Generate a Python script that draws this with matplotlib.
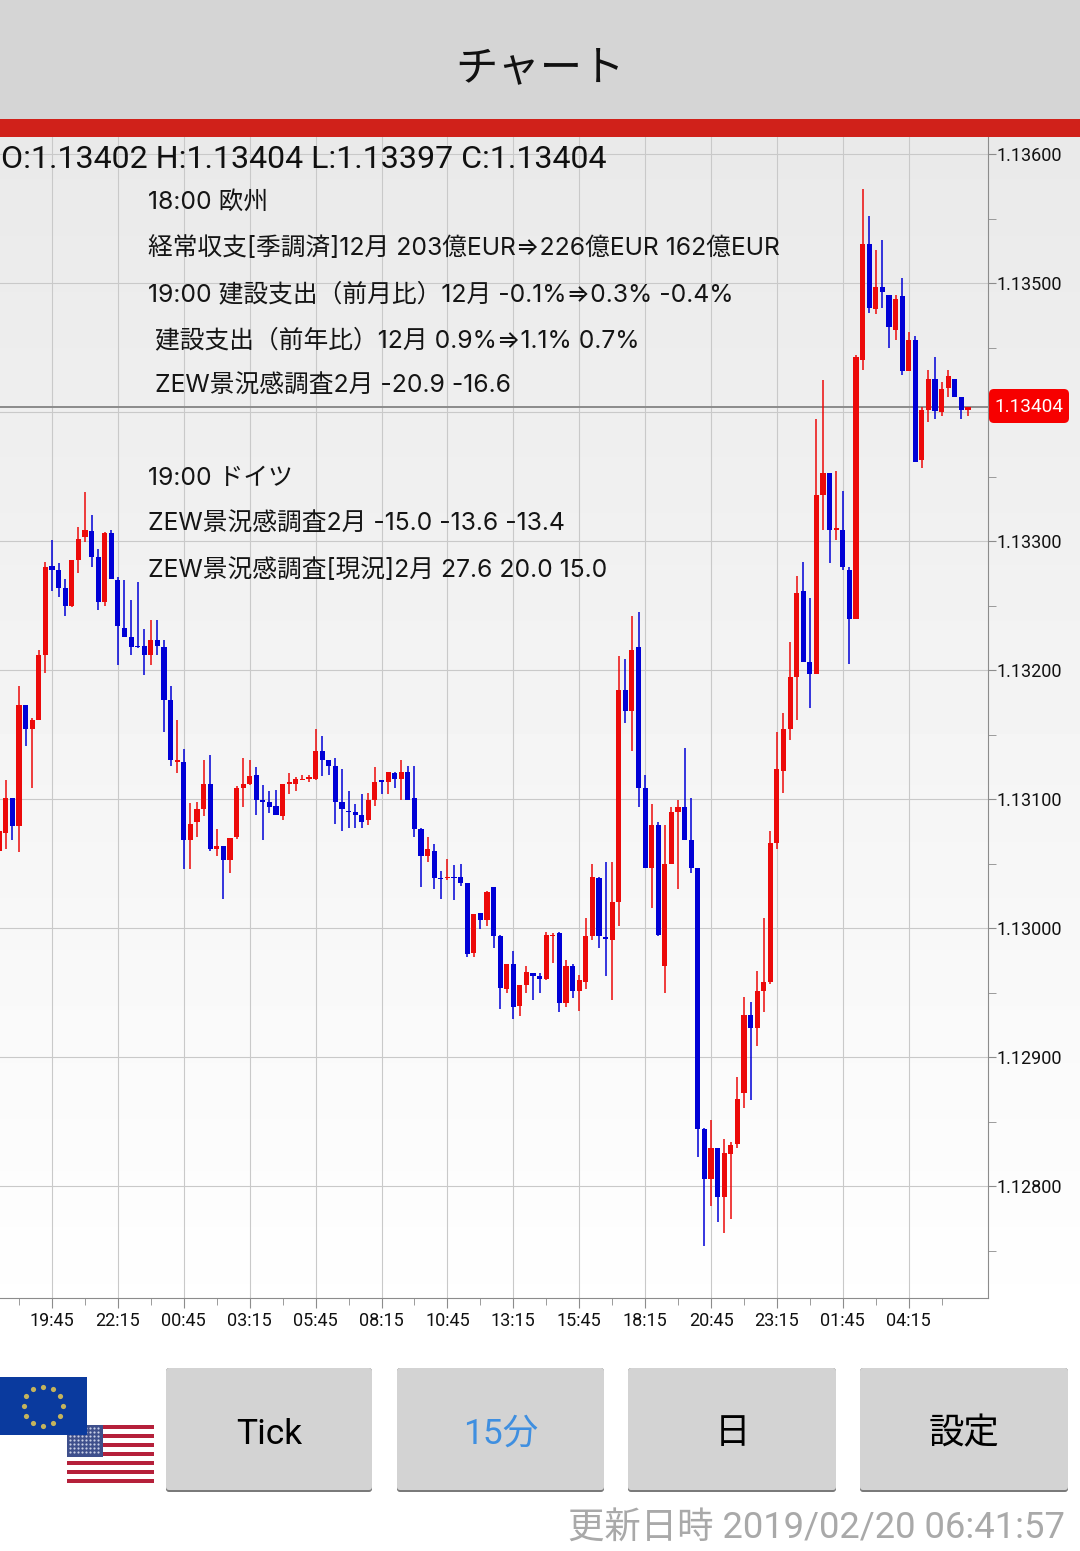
import numpy as np
import matplotlib
matplotlib.use('Agg')
import matplotlib.pyplot as plt
from matplotlib.patches import Rectangle, FancyBboxPatch

plt.rcParams['font.family'] = ['Roboto', 'Noto Sans CJK JP', 'DejaVu Sans']

# 15 minute candles, the first one sits 8 bars before the 19:45 label
first_bar = -8
opens = [1.13060, 1.13074, 1.13101, 1.13079, 1.13173, 1.13154, 1.13161, 1.13212,
         1.13281, 1.13278, 1.13264, 1.13250, 1.13285, 1.13303, 1.13308, 1.13288, 1.13253, 1.13306,
         1.13270, 1.13233, 1.13226, 1.13219, 1.13219, 1.13212, 1.13223, 1.13218, 1.13177, 1.13129,
         1.13129, 1.13068, 1.13082, 1.13092, 1.13112, 1.13061, 1.13064, 1.13053, 1.13071, 1.13109,
         1.13112, 1.13119, 1.13099, 1.13098, 1.13095, 1.13087, 1.13112, 1.13112, 1.13115, 1.13116,
         1.13116, 1.13137, 1.13130, 1.13126, 1.13098, 1.13091, 1.13090, 1.13088, 1.13084, 1.13099,
         1.13115, 1.13113, 1.13120, 1.13116, 1.13121, 1.13101, 1.13077, 1.13056, 1.13060, 1.13039,
         1.13039, 1.13040, 1.13040, 1.13035, 1.12981, 1.13012, 1.13006, 1.13032, 1.12994, 1.12953,
         1.12972, 1.12940, 1.12956, 1.12965, 1.12963, 1.12961, 1.12994, 1.12996, 1.12942, 1.12971,
         1.12951, 1.12958, 1.12994, 1.13039, 1.12993, 1.12991, 1.13020, 1.13185, 1.13168, 1.13218,
         1.13109, 1.13047, 1.13080, 1.12971, 1.13050, 1.13090, 1.13094, 1.13068, 1.13047, 1.12844,
         1.12806, 1.12830, 1.12792, 1.12825, 1.12833, 1.12872, 1.12933, 1.12923, 1.12951, 1.12958,
         1.13066, 1.13122, 1.13154, 1.13195, 1.13261, 1.13206, 1.13197, 1.13336, 1.13353, 1.13309,
         1.13309, 1.13278, 1.13240, 1.13440, 1.13530, 1.13480, 1.13497, 1.13491, 1.13464, 1.13490,
         1.13432, 1.13456, 1.13363, 1.13402, 1.13426, 1.13400, 1.13419, 1.13426, 1.13412, 1.13402]
highs = [1.13085, 1.13115, 1.13101, 1.13188, 1.13173, 1.13163, 1.13216, 1.13284,
         1.13301, 1.13283, 1.13271, 1.13285, 1.13311, 1.13338, 1.13320, 1.13294, 1.13307, 1.13309,
         1.13272, 1.13270, 1.13254, 1.13268, 1.13232, 1.13239, 1.13239, 1.13223, 1.13188, 1.13161,
         1.13139, 1.13097, 1.13098, 1.13130, 1.13134, 1.13077, 1.13064, 1.13070, 1.13110, 1.13132,
         1.13130, 1.13125, 1.13111, 1.13106, 1.13107, 1.13112, 1.13120, 1.13117, 1.13119, 1.13119,
         1.13154, 1.13149, 1.13130, 1.13132, 1.13123, 1.13106, 1.13096, 1.13104, 1.13105, 1.13125,
         1.13115, 1.13121, 1.13121, 1.13130, 1.13126, 1.13126, 1.13078, 1.13071, 1.13065, 1.13044,
         1.13054, 1.13049, 1.13050, 1.13035, 1.13011, 1.13012, 1.13029, 1.13032, 1.12995, 1.12972,
         1.12982, 1.12956, 1.12971, 1.12965, 1.12965, 1.12997, 1.12996, 1.12997, 1.12975, 1.12972,
         1.12964, 1.13008, 1.13050, 1.13040, 1.13051, 1.13051, 1.13211, 1.13209, 1.13242, 1.13245,
         1.13119, 1.13096, 1.13082, 1.13080, 1.13094, 1.13099, 1.13140, 1.13101, 1.13047, 1.12845,
         1.12851, 1.12830, 1.12837, 1.12834, 1.12885, 1.12947, 1.12943, 1.12967, 1.13008, 1.13075,
         1.13152, 1.13167, 1.13222, 1.13273, 1.13284, 1.13256, 1.13395, 1.13425, 1.13353, 1.13354,
         1.13339, 1.13280, 1.13444, 1.13573, 1.13552, 1.13526, 1.13533, 1.13491, 1.13491, 1.13504,
         1.13462, 1.13459, 1.13404, 1.13433, 1.13443, 1.13423, 1.13433, 1.13426, 1.13412, 1.13404]
lows = [1.13030, 1.13061, 1.13068, 1.13059, 1.13141, 1.13109, 1.13161, 1.13198,
        1.13261, 1.13257, 1.13242, 1.13249, 1.13275, 1.13299, 1.13280, 1.13247, 1.13250, 1.13271,
        1.13204, 1.13226, 1.13212, 1.13217, 1.13196, 1.13204, 1.13212, 1.13152, 1.13126, 1.13120,
        1.13046, 1.13046, 1.13071, 1.13087, 1.13060, 1.13056, 1.13023, 1.13043, 1.13069, 1.13094,
        1.13111, 1.13088, 1.13068, 1.13089, 1.13088, 1.13084, 1.13104, 1.13106, 1.13115, 1.13113,
        1.13115, 1.13118, 1.13119, 1.13081, 1.13075, 1.13078, 1.13078, 1.13078, 1.13080, 1.13095,
        1.13104, 1.13104, 1.13109, 1.13099, 1.13099, 1.13071, 1.13032, 1.13051, 1.13030, 1.13023,
        1.13037, 1.13022, 1.13033, 1.12978, 1.12978, 1.12999, 1.13002, 1.12985, 1.12937, 1.12950,
        1.12930, 1.12932, 1.12950, 1.12944, 1.12950, 1.12960, 1.12973, 1.12935, 1.12939, 1.12946,
        1.12936, 1.12953, 1.12991, 1.12985, 1.12963, 1.12944, 1.13002, 1.13159, 1.13137, 1.13094,
        1.13047, 1.13016, 1.12994, 1.12950, 1.13050, 1.13030, 1.13068, 1.13043, 1.12823, 1.12754,
        1.12785, 1.12772, 1.12764, 1.12775, 1.12830, 1.12861, 1.12867, 1.12909, 1.12935, 1.12957,
        1.13061, 1.13105, 1.13146, 1.13161, 1.13206, 1.13171, 1.13197, 1.13309, 1.13283, 1.13301,
        1.13278, 1.13205, 1.13240, 1.13433, 1.13477, 1.13476, 1.13481, 1.13450, 1.13456, 1.13429,
        1.13432, 1.13361, 1.13357, 1.13392, 1.13395, 1.13397, 1.13412, 1.13412, 1.13395, 1.13397]
closes = [1.13075, 1.13101, 1.13079, 1.13173, 1.13154, 1.13161, 1.13212, 1.13280,
          1.13278, 1.13264, 1.13250, 1.13285, 1.13302, 1.13309, 1.13288, 1.13253, 1.13306, 1.13271,
          1.13234, 1.13226, 1.13218, 1.13218, 1.13212, 1.13223, 1.13219, 1.13177, 1.13130, 1.13130,
          1.13068, 1.13081, 1.13092, 1.13112, 1.13061, 1.13064, 1.13053, 1.13070, 1.13109, 1.13112,
          1.13118, 1.13099, 1.13098, 1.13094, 1.13088, 1.13112, 1.13113, 1.13116, 1.13116, 1.13117,
          1.13137, 1.13130, 1.13126, 1.13098, 1.13092, 1.13090, 1.13088, 1.13082, 1.13099, 1.13113,
          1.13113, 1.13121, 1.13116, 1.13121, 1.13099, 1.13077, 1.13056, 1.13061, 1.13039, 1.13038,
          1.13040, 1.13039, 1.13035, 1.12980, 1.13011, 1.13006, 1.13028, 1.12994, 1.12954, 1.12972,
          1.12939, 1.12956, 1.12966, 1.12963, 1.12961, 1.12995, 1.12995, 1.12942, 1.12971, 1.12951,
          1.12960, 1.12994, 1.13040, 1.12994, 1.12992, 1.13020, 1.13185, 1.13168, 1.13216, 1.13109,
          1.13047, 1.13080, 1.12995, 1.13050, 1.13090, 1.13094, 1.13068, 1.13047, 1.12844, 1.12806,
          1.12830, 1.12792, 1.12826, 1.12832, 1.12868, 1.12933, 1.12923, 1.12951, 1.12958, 1.13066,
          1.13123, 1.13154, 1.13195, 1.13260, 1.13206, 1.13197, 1.13336, 1.13353, 1.13309, 1.13310,
          1.13280, 1.13240, 1.13443, 1.13530, 1.13481, 1.13497, 1.13493, 1.13466, 1.13488, 1.13432,
          1.13456, 1.13361, 1.13402, 1.13426, 1.13401, 1.13418, 1.13428, 1.13412, 1.13402, 1.13404]

time_labels = ['19:45', '22:15', '00:45', '03:15', '05:45', '08:15', '10:45',
               '13:15', '15:45', '18:15', '20:45', '23:15', '01:45', '04:15']
bars_per_label = 10
price_ticks = [1.136, 1.135, 1.134, 1.133, 1.132, 1.131, 1.130, 1.129, 1.128]
price_minor = [1.1355, 1.1345, 1.1335, 1.1325, 1.1315, 1.1305, 1.1295, 1.1285, 1.1275]
last_price = 1.13404

ohlc_text = 'O:1.13402 H:1.13404 L:1.13397 C:1.13404'
notes = [(148, 202, '18:00 欧州'),
         (148, 248, '経常収支[季調済]12月 203億EUR⇒226億EUR 162億EUR'),
         (148, 294, '19:00 建設支出（前月比）12月 -0.1%⇒0.3% -0.4%'),
         (155, 340, '建設支出（前年比）12月 0.9%⇒1.1% 0.7%'),
         (155, 386, 'ZEW景況感調査2月 -20.9 -16.6'),
         (148, 478, '19:00 ドイツ'),
         (148, 524, 'ZEW景況感調査2月 -15.0 -13.6 -13.4'),
         (148, 570, 'ZEW景況感調査[現況]2月 27.6 20.0 15.0')]
buttons = [(166, 372, 'Tick', '#000000'), (397, 604, '15分', '#3f8fe0'),
           (628, 836, '日', '#000000'), (860, 1068, '設定', '#000000')]

W, H = 1080, 1551
fig = plt.figure(figsize=(W / 100, H / 100), dpi=100, facecolor='white')

# page background, light grey fading to white
bg = fig.add_axes([0, 0, 1, 1], zorder=0)
bg.axis('off')
shade = np.linspace(0.915, 1.0, 256).reshape(-1, 1)
bg.imshow(shade, cmap='gray', vmin=0, vmax=1, aspect='auto', extent=[0, W, 1340, 137])
bg.set_xlim(0, W)
bg.set_ylim(H, 0)

# chart
ax = fig.add_axes([0, (H - 1298) / H, 988 / W, (1298 - 137) / H], zorder=1)
ax.patch.set_alpha(0)
idx = np.arange(first_bar, first_bar + len(opens))
opens = np.array(opens)
closes = np.array(closes)
colors = np.where(closes >= opens, '#ec0a0a', '#0000d6')
ax.vlines(idx, lows, highs, colors=colors, linewidth=1.1, zorder=3)
ax.bar(idx, np.abs(closes - opens), bottom=np.minimum(opens, closes), width=0.78,
       color=colors, linewidth=0, zorder=4)

ax.set_xlim(-52 / 6.59, 936 / 6.59)
ax.set_ylim(1.127134, 1.136132)
ax.set_xticks(np.arange(len(time_labels)) * bars_per_label)
ax.set_xticklabels(time_labels)
ax.set_xticks(np.arange(len(time_labels) + 1) * bars_per_label - 5, minor=True)
ax.set_yticks(price_ticks)
# the 1.13400 label sits behind the red price box, so it never shows
ax.set_yticklabels(['' if p == 1.134 else '%.5f' % p for p in price_ticks])
ax.set_yticks(price_minor, minor=True)
ax.yaxis.tick_right()
ax.grid(True, which='major', color='#c9c9c9', linewidth=0.8, zorder=1)
ax.axhline(last_price, color='#8c8c8c', linewidth=1.4, zorder=2)
ax.spines['top'].set_visible(False)
ax.spines['left'].set_visible(False)
ax.spines['right'].set_color('#8c8c8c')
ax.spines['bottom'].set_color('#8c8c8c')
ax.tick_params(axis='x', which='major', length=7.2, color='#8c8c8c', labelsize=13.0, pad=3, labelcolor='#111111')
ax.tick_params(axis='x', which='minor', length=5, color='#8c8c8c')
ax.tick_params(axis='y', which='both', length=5.8, color='#8c8c8c', labelsize=13.0, pad=0.3, labelcolor='#111111')

# everything that is app screen, in pixel coordinates
ui = fig.add_axes([0, 0, 1, 1], zorder=2)
ui.axis('off')
ui.patch.set_alpha(0)
ui.set_xlim(0, W)
ui.set_ylim(H, 0)

ui.add_patch(Rectangle((0, 0), W, 119, color='#d5d5d5', lw=0))
ui.add_patch(Rectangle((0, 119), W, 18, color='#d0211a', lw=0))
ui.text(540, 69, 'チャート', ha='center', va='center', fontsize=30.5, color='#111111')

ui.text(1, 159, ohlc_text, ha='left', va='center', fontsize=23.1, color='#111111')
for nx, ny, txt in notes:
    ui.text(nx, ny, txt, ha='left', va='center', fontsize=17.8, color='#151515',
            family=['Inter', 'Noto Sans CJK JP', 'DejaVu Sans'])

ui.add_patch(FancyBboxPatch((992, 392), 74, 28, boxstyle='round,pad=3,rounding_size=5', color='#f70000', lw=0))
ui.text(1029, 407, '%.5f' % last_price, ha='center', va='center', fontsize=13.7, color='white')

# flags
ui.add_patch(Rectangle((67, 1425), 87, 58, color='white', lw=0))
for s in range(7):
    ui.add_patch(Rectangle((67, 1425 + s * 2 * 58 / 13), 87, 58 / 13, color='#b5203a', lw=0))
ui.add_patch(Rectangle((67, 1425), 36, 32, color='#3e4f8c', lw=0))
gx, gy = np.meshgrid(np.arange(70, 102, 4), np.arange(1428, 1456, 4))
ui.scatter(gx.ravel(), gy.ravel(), s=2.5, color='#c8cfe6', linewidth=0)
ui.add_patch(Rectangle((0, 1377), 87, 58, color='#0a3a9e', lw=0))
ang = np.arange(12) * np.pi / 6
ui.scatter(43 + 19.5 * np.cos(ang), 1406 + 19.5 * np.sin(ang), s=14, color='#c4b35c', linewidth=0)

# buttons
for x0, x1, lab, col in buttons:
    ui.add_patch(FancyBboxPatch((x0 + 3, 1371), x1 - x0 - 6, 118, boxstyle='round,pad=3,rounding_size=3',
                                color='#7a7a7a', lw=0))
    ui.add_patch(FancyBboxPatch((x0 + 3, 1371), x1 - x0 - 6, 116, boxstyle='round,pad=3,rounding_size=3',
                                color='#d3d3d3', lw=0))
    ui.text((x0 + x1) / 2, 1434, lab, ha='center', va='center', fontsize=25.5, color=col)

ui.text(1065, 1529, '更新日時 2019/02/20 06:41:57', ha='right', va='center', fontsize=26.2, color='#a9a9a9')

fig.savefig('out.png', dpi=100)
